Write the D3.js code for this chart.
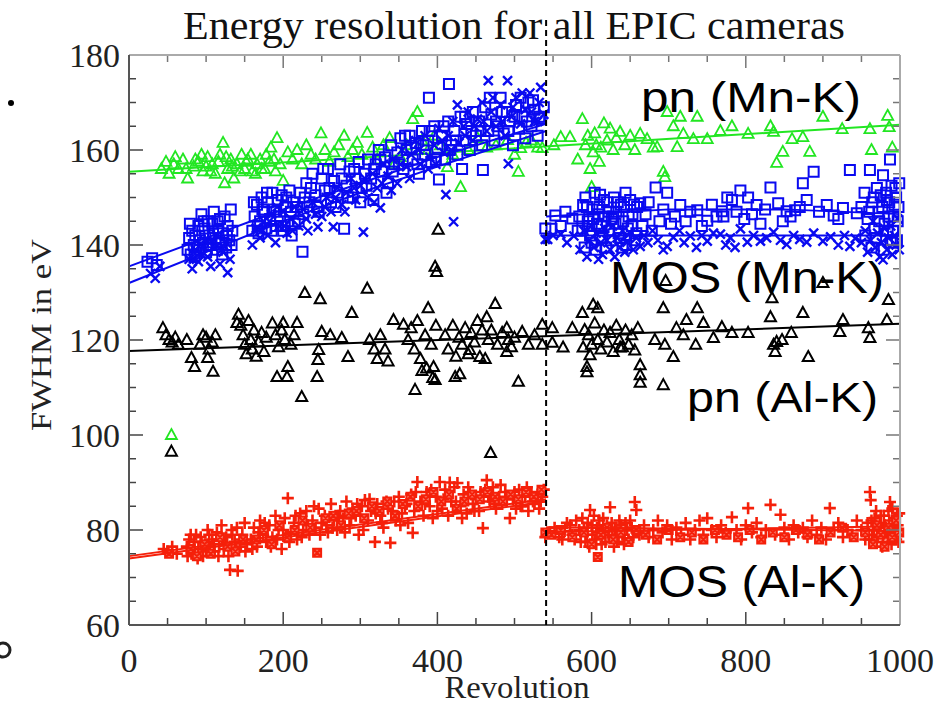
<!DOCTYPE html>
<html>
<head>
<meta charset="utf-8">
<script src="https://cdn.jsdelivr.net/npm/d3@7"></script>
<style>
  body { margin: 0; background: #fff; }
  text { font-family: 'Liberation Serif', 'Times New Roman', serif; }
  .lab { font-family: 'Liberation Sans', Arial, sans-serif; }
</style>
</head>
<body>
<svg width="948" height="709"></svg>
<script>
// x tick labels and y tick labels
const xTicks = [0, 200, 400, 600, 800, 1000]
const yTicks = [60, 80, 100, 120, 140, 160, 180]
const breakRev = 541

// pn (Mn-K), green triangles  [revolution, FWHM]
const pnMn = [[42,156],[48,157.5],[52,155],[55,100],[58,157],[60,158.5],[64,156],[70,158],[74,156],[76,154],[84,156.5],[86,158],[90,157.5],[94,159],[96,155.5],[100,156.5],[102,158.5],[106,155.5],[108,157],[112,155],[116,157.5],[118,159],[122,161.5],[124,153],[126,158.5],[128,156],[132,158],[134,156.5],[136,154],[140,157],[144,155.5],[146,159],[150,156],[152,157.5],[154,158],[158,159],[160,155.5],[164,155],[166,157],[170,158],[172,156],[176,156],[178,159],[182,157.5],[184,160.5],[188,158],[190,155.5],[192,162.5],[196,157],[200,153.5],[206,159.5],[212,158],[218,160],[224,157],[230,161],[236,159],[242,158],[249,163.5],[254,160],[260,157.5],[266,159.5],[272,161],[279,163],[284,158.5],[290,160],[296,161.5],[302,159],[309,163.6],[316,160.5],[322,158],[330,161],[338,162.5],[344,157],[352,158.5],[360,161],[368,166.5],[374,168],[380,162],[388,160],[396,163],[404,161],[413,156.4],[420,159],[430,152.2],[440,160],[452,162.5],[464,160.5],[476,161],[491,162.1],[500,159],[505,155.4],[508,160.4],[515,161.5],[522,162],[530,160.5],[536,160.4],
  [551,161],[560,162.7],[572,162.7],[582,158],[588,166.5],[592,161],[595,163],[598,156],[600,152.2],[602,159.5],[604,163.5],[606,161],[610,157.5],[612,160.5],[616,165.6],[620,162],[624,164.5],[628,160],[632,162.5],[637,163.8],[643,161],[650,163],[656,160],[663,163.4],[672,162.3],[680,160.5],[685,160.6],[693,155.4],[695,154.3],[698,168],[706,165],[711,160.6],[715,167],[719,163.4],[732,162.3],[737,167],[750,162.3],[767,164],[782,165],[803,163.4],[832,165],[836,163.8],[840,157.3],[848,159.6],[860,162.3],[874,162.7],[883,159.6],[900,167],[925,164.4],[961,164.4],[963,160],[984,167.2],[986,164.8],[990,160.5]]
const pnMnFit = [[0,155.4],[1000,165.3]]

// MOS (Mn-K): squares = MOS1, crosses = MOS2
const mos1Mn = [[24,136.5],[30,137.2],[36,135.8],
  [76,139],[78,141.5],[79,144.5],[80,138],[82,143],[84,140],[85,137.5],[86,142],[88,139.5],[90,144],[91,139],[92,141],[94,146.5],[96,140.5],[97,145],[98,143.5],[100,138.5],[102,145],[103,140],[104,142],[106,140],[108,144.5],[109,142.5],[110,147],[112,141.5],[114,139],[115,145],[116,143],[118,145.5],[120,140.5],[121,138],[122,142.5],[124,146],[126,139.5],[127,142],[128,144],[130,141],[132,147.5],[133,140],[134,143],
  [160,143],[162,149],[163,146],[166,148.5],[167,144],[168,142.5],[170,145],[172,150],[173,147.5],[175,147],[178,143.5],[179,151],[180,149],[183,145.5],[185,143],[186,151],[188,147.5],[190,144],[191,147],[193,149.5],[196,146],[197,144],[198,150.5],[200,143],[203,148],[204,150],[206,145],[208,151.5],[210,147],[211,142],[213,149],[215,144.5],[225,138.6],
  [218,148],[220,145],[222,151],[226,146.5],[228,150],[230,153],[234,149],[236,152],[238,155],[242,150.5],[244,148],[246,147],[250,154],[252,156],[254,151.5],[258,156],[260,152],[262,149],[266,153.5],[268,148],[270,151],[274,157],[276,154],[279,143.4],[282,152.5],[284,150],[286,155.5],[290,150],[292,156],[294,154],[298,157.5],[300,149],
  [302,152],[306,155],[308,152.5],[310,158],[314,154],[317,149.5],[318,156],[320,157],[324,160],[326,158],[328,155.5],[332,158.5],[334,151],[336,153],[340,161],[342,155.5],[344,157],[348,159.5],[350,157],[352,162.5],[356,156],[358,163],[360,160],[364,163],[366,160.5],[368,158],[372,161.5],[374,157],[376,155],[380,164],[382,161],[384,159],[388,162],[389,171],[390,164],[392,157.5],[396,165],[398,158],[400,160.5],[402,153.8],[406,163],[408,165],[410,158],[414,166],[415,173.9],[416,160],[418,161],
  [422,164],[424,162],[426,159],[430,167],[432,156],[434,162],[436,167],[438,165.5],[442,160],[444,164],[446,168],[450,163],[454,166],[456,164],[458,161],[459,155.8],[462,169],[466,164],[468,171],[470,167.5],[474,162],[476,166],[478,165],[482,171],[484,168],[486,163.5],[490,168],[492,164],[494,166],[498,161],[500,167],[502,169.5],[506,164.5],[508,171],[510,167],[514,162.5],[516,166],[518,170],[522,165],[524,170.5],[526,168.5],[530,163],[532,167],[534,166.7],[538,169],[540,143.5],
  [548,143.4],[553,146.2],[560,144],[566,147],[575,145.6],[582,143],[584,146],[588,143.5],[589,148.4],[591,139.5],[592,150],[594,148],[595,145],[597,144],[598,142],[600,140.5],[601,147.5],[602,145.5],[604,151],[605,139],[607,144.5],[609,146.5],[610,148],[611,150.6],[613,144],[614,141.5],[616,149.5],[617,146],[619,139.5],[620,149],[622,147],[623,143],[625,141],[626,145.5],[628,146],[629,150],[631,144.5],[632,147],[634,149],[635,142.5],[637,141.5],[638,148.5],[640,139.5],[641,145],[642,148],[644,151],[645,140],[647,143.5],[648,146],[650,149.5],[652,144],[653,146.5],[655,148.5],[656,141],[658,142.5],[659,148],[663,148.8],[666,144],[670,146.5],[674,149],[678,143],[683,152.1],[688,145],[693,147.5],[698,151],[703,144.5],[708,146],[715,148.4],[722,145],[728,147],[737,147.3],[743,144],[750,145.1],[756,148.5],[762,146],[769,147.1],[771,146],[776,150],[782,149.5],[788,147],[793,151.5],[798,145.5],[803,150],[808,146.5],[814,148.4],[819,144.5],[825,147.5],[832,152.1],[842,148.8],[848,145],[853,147.1],[858,146],[864,147.3],[870,148],[874,153],[879,149.5],[888,155.4],[895,147],[905,148.4],[914,146.2],[920,145.5],[926,147.8],[935,155.8],[944,146.7],[950,148],[954,151],[955,142],[958,145.5],[960,147],[961,155.8],[963,139.5],[964,149],[966,150],[967,143.5],[969,141.5],[970,152],[972,147],[973,145],[975,150.5],[977,148],[978,154.7],[979,139],[980,144.5],[982,151],[983,149.5],[984,143],[985,146],[986,149],[987,158],[988,140.5],[989,152.5],[990,141],[991,143],[992,146],[993,148.5],[994,152],[995,150],[996,141],[997,145],[998,148],[999,153]]
const mos2Mn = [[28,134],[34,133],[40,135.5],
  [78,137],[82,135],[84,137],[86,139],[90,136.5],[94,138],[96,139.5],[98,141],[102,137.5],[106,135.5],[108,141],[110,139.5],[114,142],[118,136],[120,139],[122,138.5],[126,140.5],[128,134.2],[131,137],
  [160,140],[165,143.5],[170,141.5],[172,143],[175,145],[180,142],[182,145],[185,146.5],[190,140.5],[192,148],[195,144],[200,147],[202,144],[205,142.5],[210,145.5],[212,143],[215,148],
  [220,144],[226,147.5],[230,145.5],[232,143],[238,149],[242,146.5],[245,143.8],[250,146],[254,148],[256,150],[262,147],[265,143.8],[268,150],[270,152],[276,148.5],[280,147],[282,151],[288,154],[292,152],[294,149.5],[300,152.5],
  [304,142.7],[306,154],[310,150],[316,155],[318,149],[322,152],[326,147.8],[328,153],[330,157],[336,154.5],[340,151.5],[342,158],[348,153],[352,157],[354,160],[360,156.5],[364,154],[366,159],[372,162],[376,160],[378,157],[384,163],[388,156],[390,158.5],[396,161],[398,157],[402,164.5],[406,162],[408,159.5],
  [411,150.6],[421,144.9],[426,169.5],[414,163],[418,160],[420,166],[428,161.5],[434,165],[436,163],[440,168],[446,162],[448,165],[452,166.5],[458,170],[460,166],[464,164],[466,174.6],[470,168],[472,171],[476,165],[482,169.5],[484,166],[488,163],[491,174.6],[492,157.1],[496,167],[498,169],[502,171],[508,165.5],[510,172],[514,168.5],[520,172],[522,168],[526,166],[530,166],[532,170],[534,173.2],[538,167.5],[540,141.2],
  [543,141.2],[550,142],[560,142.3],[568,140.5],[577,141.9],[585,139],[590,143],[594,137.5],[597,141],[600,144],[603,139.5],[606,142.5],[609,137],[612,140.5],[614,138],[617,143.5],[620,141],[624,139],[627,144],[630,137.5],[633,141.5],[637,139.5],[640,143],[643,138.5],[646,140.6],[650,142.5],[654,139],[658,141.5],[663,139.7],[668,142],[673,140.5],[679,143],[686,141],[693,139],[698,139.7],[706,141.6],[714,143],[720,140.5],[728,141.9],[736,139.5],[743,142],[750,140.8],[758,142.5],[767,142.3],[774,140],[780,141.5],[786,139.5],[793,143.4],[802,140.6],[810,142],[819,140.8],[827,141.5],[836,142.7],[845,141],[853,140.1],[862,142],[870,141.2],[879,140.6],[888,142.5],[900,140.8],[910,141.7],[920,140],[928,142],[935,139.7],[942,141.4],[950,140.5],[955,143],[958,138.5],[962,141],[965,145],[968,139.5],[971,142.5],[974,137.5],[976,140.5],[978,136.9],[980,143.5],[983,139],[985,141.5],[988,144],[990,138],[993,142],[995,140],[997,145.5],[999,139]]
const mos1MnFit = [[[0,135.5],[100,141.5],[200,147.5],[300,153],[400,158.5],[541,165.5]], [[541,146],[700,147.5],[850,147.5],[1000,146.5]]]
const mos2MnFit = [[[0,132],[100,138.5],[200,145],[300,151],[400,156.5],[541,164]], [[541,142],[1000,142]]]

// pn (Al-K), black triangles
const pnAl = [[44,122.5],[48,121],[52,120],[55,96.5],[56,119.5],[60,120.5],[64,119],[75,120],[81,116.2],[85,114.3],[92,119],[96,121],[100,120.5],[102,116.2],[104,118],[108,119.5],[109,113.3],[112,121],
  [140,123.6],[142,125.3],[145,123],[148,121],[150,119],[152,117],[155,124],[158,120],[160,118],[162,122],[165,116.5],[168,119.5],[172,121.5],[175,117.5],[178,120.5],
  [186,123.5],[190,121],[192,112.2],[194,118.5],[198,122],[200,123.6],[202,120],[205,112.2],[206,114.3],[210,119],[214,121],[218,123.6],[224,108],[228,129.9],[244,112.2],[245,115.8],[246,117.9],[248,128.6],[250,121.7],[261,121],[276,120.4],[284,116.4],[289,125.7],[309,130.8],
  [312,120],[318,118],[322,116],[326,121],[332,118],[336,115.5],[343,124.2],[356,123.2],[362,120],[366,122.5],[370,118],[371,109.5],[374,124],[378,116],[380,113.5],[384,121],[386,114],[388,126.7],[392,119],[394,112],[395,114.3],[397,111.6],[397,135.4],[399,134.3],[401,143.2],[398,123],
  [410,121],[414,118],[420,123],[423,112.2],[424,116.5],[428,120.5],[429,112.8],[432,119],[436,122.5],[440,117],[442,117.9],[444,121.5],[448,119.5],[452,124],[455,116.4],[458,122],[462,116],[464,124.8],[466,120],[469,96.2],[470,122],[475,127.6],[478,119],[484,121.5],[490,122.5],[490,117.5],[492,120],[496,118.5],[500,120.5],[505,111.2],[510,121.7],[518,119],[526,121],[536,123.2],[536,119],
  [549,122.5],[549,119.4],[563,118.4],[575,122.5],[588,125.7],[589,118.4],[591,122.1],[594,114.3],[594,113.2],[596,121],[598,116.8],[600,119],[602,127.4],[604,123.5],[608,126.7],[608,120],[612,118],[616,122],[620,119.5],[624,121.5],[628,117.5],[632,123],[636,120],[637,118.4],[640,118.5],[644,122],[648,119],[652,121],[656,117.8],[660,122.5],[663,114.7],[663,112.6],[663,111],[682,120],[693,110.5],[693,126.7],[695,119],[696,132.4],[706,116.4],[710,122.5],[719,121],[723,124.2],[735,119],[737,126.7],[745,123.6],[758,120.4],[769,122.7],[782,121.5],[803,121.5],[832,124.8],[834,128.8],[836,119],[838,117.5],[840,119.6],[847,120],[859,121.5],[874,125.7],[881,116.4],[900,132],[922,121.7],[926,124.2],[959,122.5],[961,120.4],[983,124.2],[985,128.4]]
const pnAlFit = [[0,117.7],[1000,123.4]]

// MOS (Al-K): plus = MOS1, boxed cross = MOS2
const mos1Al = [[45,76],[50,75.5],[56,76.5],[62,75],
  [75,76.5],[76,74.5],[78,78],[80,79],[81,75],[84,77.5],[85,76],[87,79],[89,74],[90,76],[93,78.5],[94,77.5],[96,74.5],[99,77],[100,75.5],[102,80],[104,79],[105,76.5],[108,78],[110,77],[111,75.5],[114,79.5],[116,74.5],[117,77],[120,81],[121,78],[123,76],[126,78.5],[127,77],[129,74.5],[131,71.6],[133,80],[134,79],[137,77.5],[139,76],[140,80.5],[141,71.4],[144,76.5],[145,78],[147,79],[150,81.5],[151,75.5],[153,77],
  [158,78],[160,76],[162,80.5],[166,76.5],[168,79.5],[170,82],[174,79],[176,81.5],[178,77.5],[182,81],[184,76.5],[186,78.5],[190,83],[192,78],[194,80],[198,76],[200,80],[202,82.5],[206,86.7],[208,77.5],[210,79.5],[214,81.5],[216,83],[218,78],[222,83.5],[224,78.5],[226,80],[230,84],[232,81],[234,79],[238,82],[240,85],[242,80.5],[246,84.5],[248,79],[250,81.5],[254,83],[256,81],[258,79.5],[262,85.5],[264,80.5],[266,82],[270,80],[272,83],[274,84],[278,82.5],[280,79.5],[282,86],[286,81],[288,82.5],[290,84.5],[294,83],[296,85.5],[298,79],[302,85],[304,80],[306,86.3],[310,82],[312,86.5],[314,84],[319,77.5],[320,83.5],[322,85.5],[326,83],[328,81.5],[330,80.5],[334,86],[336,84.5],[339,77.3],[342,84],[344,86],[346,82],[350,87],[352,81],[354,83.5],[358,85],[360,85.5],[362,81.5],[366,87.5],[368,79.4],[370,84],[372,88],[374,90.1],[378,86],[382,83],[384,85.5],[386,88],[390,85],[392,88.5],[394,82.5],[398,87],[400,84],[403,90.1],[406,84.5],[408,86.5],[410,88.5],[414,83],[416,90],[418,86],[422,89],[424,86],[426,89.9],[430,85],[432,82.5],[434,87.5],[438,83.5],[440,89],[442,88],[446,85.5],[448,84],[450,86.5],[454,84],[456,88],[459,80.4],[462,88.5],[464,90.5],[466,87],[468,86],[472,89],[474,85.5],[476,84.5],[480,87],[482,89.5],[484,85.5],[488,88],[490,86.5],[494,82.5],[498,86.5],[500,88],[502,84.5],[506,88.5],[508,85],[510,85],[514,87],[516,89],[518,84],[522,88],[524,86],[526,85.5],[530,87.5],[532,84.5],[534,86],[536,87],[538,88.5],[540,78.5],
  [546,79.5],[552,80.5],[558,78.5],[562,78],[565,79.8],[568,81.5],[572,81],[575,79],[578,78],[580,82],[584,80],[586,77.5],[588,82.5],[590,80.5],[592,77.5],[594,79],[595,81.5],[597,76.5],[598,84.2],[600,81],[601,79],[603,83],[604,78],[606,77],[607,80.5],[609,79.5],[610,82],[612,80],[613,77],[615,82.5],[616,79.5],[618,77.5],[620,81],[622,79],[624,84.8],[626,81.5],[627,78.5],[629,76.5],[630,80],[632,80.5],[633,77.5],[635,78.5],[636,82],[638,81],[640,79],[642,77],[644,81.5],[646,80],[648,78],[650,82],[652,80.5],[654,78.5],[656,85.9],[658,84.2],[662,79],[668,81],[674,78.5],[680,80],[686,82],[692,79.5],[698,81],[704,78],[710,80.5],[716,79],[722,81.5],[728,78],[734,80],[740,82],[745,79],[750,82.5],[756,80],[762,78.5],[768,81],[774,79.5],[782,82.7],[788,80],[794,78],[800,81],[803,84.6],[808,79.5],[814,81.5],[820,78.5],[826,80],[832,85.3],[838,79],[845,83.2],[850,80.5],[856,78],[862,81],[868,79.5],[874,80.5],[880,78.5],[886,82],[892,79],[898,80.5],[904,78],[909,84.6],[914,80],[920,81.5],[926,78.5],[932,80],[938,79],[944,82],[950,80],[955,78],[958,81.5],[960,78],[961,88],[962,86.3],[963,82],[964,79],[966,80],[967,82.5],[969,84],[970,77.5],[971,78.5],[972,80.5],[974,81.5],[975,83],[977,76.5],[978,78.5],[979,83],[980,81],[982,80.5],[983,79.5],[984,77.5],[985,84],[986,82],[987,85.9],[988,79],[989,77],[990,84.5],[991,80],[992,78],[993,82.5],[994,80.5],[995,78],[996,83],[997,81],[998,77.5],[999,83.5]]
const mos2Al = [[52,75],[80,76],[88,74.5],[98,77],[106,75],[118,78.5],[128,76.5],[138,75.5],[148,78],[165,78],[175,80],[185,77],[195,81],[205,78.5],[215,80],[225,82],[235,80.5],[244,75.2],[255,82.5],[265,83],[275,81],[285,83.5],[295,84],[305,82.5],[315,85],[325,84],[335,86],[345,83],[355,85.5],[365,87],[375,85],[385,86.5],[395,88],[405,86],[415,87.5],[425,84.5],[435,86],[445,87.5],[455,86.5],[465,88],[475,87],[485,86],[495,87.5],[505,86.5],[515,88],[525,87],[535,88.5],[540,79.5],
  [548,79],[560,80],[575,78.5],[590,79.5],[600,77],[608,74.3],[612,79],[620,80.5],[628,78],[638,79.5],[648,77.5],[658,80],[670,79],[685,78],[700,80],[715,78.5],[730,79.5],[745,78],[760,80],[775,79],[790,78.5],[805,80],[820,78],[835,79.5],[850,78.5],[865,80],[880,79],[895,78],[910,79.5],[925,80.5],[940,78.5],[955,79.5],[965,77],[970,81],[975,79],[980,76.5],[985,80.5],[990,78.5],[995,82],[999,79.5]]
const mos1AlFit = [[[0,74.5],[541,86.5]], [[541,79.6],[1000,80.8]]]
const mos2AlFit = [[[0,74],[541,86]], [[541,80.6],[1000,79.8]]]

const svg = d3.select('svg')
svg.append('rect').attr('width', 948).attr('height', 709).attr('fill', '#fff')

// plot frame in pixels
const pL = 129, pR = 900, pT = 55, pB = 625
const x = d3.scaleLinear().domain([0, 1000]).range([pL, pR])
const y = d3.scaleLinear().domain([60, 180]).range([pB, pT])

// marker shapes
const tri = 'M0,-6L5.5,4L-5.5,4Z'
const sq = 'M-5,-5h10v10h-10z'
const cross = 'M-4.5,-4.5L4.5,4.5M4.5,-4.5L-4.5,4.5'
const plus = 'M-6,0H6M0,-6V6'
const boxX = 'M-4,-4h8v8h-8zM-4,-4L4,4M4,-4L-4,4'

const plot = svg.append('g')
const line = d3.line().x(d => x(d[0])).y(d => y(d[1]))

function drawPoints (data, shape, color, width, fill) {
  plot.append('g').selectAll('path')
    .data(data)
    .enter().append('path')
      .attr('d', shape)
      .attr('transform', d => 'translate(' + x(d[0]) + ',' + y(d[1]) + ')')
      .attr('fill', fill || 'none')
      .attr('stroke', color)
      .attr('stroke-width', width)
}
function drawFit (segs, color) {
  segs.forEach(s => {
    plot.append('path').attr('d', line(s))
      .attr('fill', 'none').attr('stroke', color).attr('stroke-width', 2)
  })
}

const green = '#22e622', blue = '#0a0af0', red = '#f5200a'

drawPoints(pnMn, tri, green, 1.8)
drawFit([pnMnFit], green)
drawPoints(mos1Mn, sq, blue, 2)
drawPoints(mos2Mn, cross, blue, 2.4)
drawFit(mos1MnFit, blue)
drawFit(mos2MnFit, blue)
drawPoints(pnAl, tri, '#000', 2)
drawFit([pnAlFit], '#000')
drawPoints(mos1Al, plus, red, 2.6)
drawPoints(mos2Al, boxX, red, 2, '#f87060')
drawFit(mos1AlFit, red)
drawFit(mos2AlFit, red)

// axes: IDL style, ticks inward on all four sides
const xMinor = d3.range(0, 1001, 50).filter(v => v % 200)
const yMinor = d3.range(60, 181, 5).filter(v => v % 20)
const axG = svg.append('g').attr('font-size', 34).attr('fill', '#222')

function ticks (vals, len, horiz) {
  vals.forEach(v => {
    if (horiz) {
      axG.append('line').attr('x1', x(v)).attr('x2', x(v)).attr('y1', pB).attr('y2', pB - len).attr('stroke', '#444').attr('stroke-width', 1.5)
      axG.append('line').attr('x1', x(v)).attr('x2', x(v)).attr('y1', pT).attr('y2', pT + len).attr('stroke', '#777').attr('stroke-width', 1.5)
    } else {
      axG.append('line').attr('x1', pL).attr('x2', pL + len).attr('y1', y(v)).attr('y2', y(v)).attr('stroke', '#444').attr('stroke-width', 1.5)
      axG.append('line').attr('x1', pR).attr('x2', pR - len).attr('y1', y(v)).attr('y2', y(v)).attr('stroke', '#777').attr('stroke-width', 1.5)
    }
  })
}
ticks(xTicks, 13, true)
ticks(xMinor, 7, true)
ticks(yTicks, 14, false)
ticks(yMinor, 7, false)

// frame
axG.append('line').attr('x1', pL).attr('x2', pR).attr('y1', pT).attr('y2', pT).attr('stroke', '#aaa').attr('stroke-width', 2)
axG.append('line').attr('x1', pR).attr('x2', pR).attr('y1', pT).attr('y2', pB).attr('stroke', '#aaa').attr('stroke-width', 2)
axG.append('line').attr('x1', pL).attr('x2', pR).attr('y1', pB).attr('y2', pB).attr('stroke', '#555').attr('stroke-width', 2)
axG.append('line').attr('x1', pL).attr('x2', pL).attr('y1', pT).attr('y2', pB).attr('stroke', '#555').attr('stroke-width', 2)

axG.selectAll('.xl').data(xTicks).enter().append('text')
  .attr('x', d => x(d)).attr('y', 672).attr('text-anchor', 'middle').text(d => d)
axG.selectAll('.yl').data(yTicks).enter().append('text')
  .attr('x', 120).attr('y', d => y(d) + 12).attr('text-anchor', 'end').text(d => d)

// boundary between the two periods
svg.append('line')
  .attr('x1', x(breakRev)).attr('x2', x(breakRev)).attr('y1', 20).attr('y2', pB)
  .attr('stroke', '#000').attr('stroke-width', 2).attr('stroke-dasharray', '6,4')

// titles
svg.append('text').attr('x', 514).attr('y', 39).attr('text-anchor', 'middle')
  .attr('font-size', 39).attr('textLength', 662).attr('lengthAdjust', 'spacingAndGlyphs')
  .attr('fill', '#111').text('Energy resolution for all EPIC cameras')
svg.append('text').attr('x', 517).attr('y', 698).attr('text-anchor', 'middle')
  .attr('font-size', 31).attr('textLength', 145).attr('lengthAdjust', 'spacingAndGlyphs')
  .attr('fill', '#222').text('Revolution')
svg.append('text').attr('transform', 'translate(51,335) rotate(-90)').attr('text-anchor', 'middle')
  .attr('font-size', 30).attr('textLength', 192).attr('lengthAdjust', 'spacingAndGlyphs')
  .attr('fill', '#222').text('FWHM in eV')

// series labels
const labels = [
  { t: 'pn (Mn-K)', x: 641, y: 112, w: 220, s: 42 },
  { t: 'MOS (Mn-K)', x: 610, y: 293, w: 274, s: 44 },
  { t: 'pn (Al-K)', x: 687, y: 412, w: 191, s: 42 },
  { t: 'MOS (Al-K)', x: 618, y: 597, w: 247, s: 44 }
]
svg.selectAll('.lab').data(labels).enter().append('text')
  .attr('class', 'lab')
  .attr('x', d => d.x).attr('y', d => d.y)
  .attr('font-size', d => d.s).attr('textLength', d => d.w).attr('lengthAdjust', 'spacingAndGlyphs')
  .attr('fill', '#000').text(d => d.t)

// scraps at the left edge of the original slide
svg.append('circle').attr('cx', 11).attr('cy', 103).attr('r', 3).attr('fill', '#000')
svg.append('circle').attr('cx', 3).attr('cy', 650).attr('r', 7).attr('fill', 'none').attr('stroke', '#222').attr('stroke-width', 3)
</script>
</body>
</html>
